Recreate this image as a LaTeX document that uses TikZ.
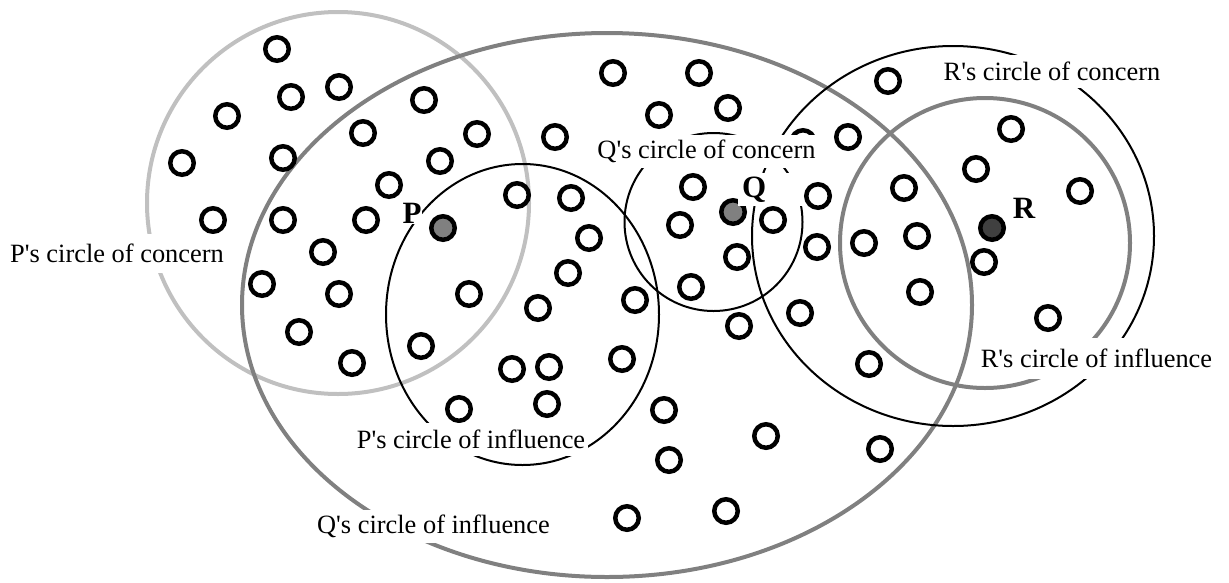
\documentclass[tikz,border=0pt]{standalone}
\usepackage{fontspec}
\setmainfont{Liberation Serif}
\definecolor{lightring}{HTML}{C0C0C0}
\definecolor{midring}{HTML}{808080}
\definecolor{darkfill}{HTML}{404040}
\begin{document}
\begin{tikzpicture}[x=1pt,y=-1pt]
    \tikzset{ring/.style = {line width=4pt}}
    \tikzset{border/.style = {line width=2pt}}
    \tikzset{dot/.style = {shape=circle,draw,line width=4.5pt,minimum size=23.5pt,inner sep=0pt}}
    \tikzset{tag/.style = {fill=white,inner xsep=3pt,inner ysep=0pt,minimum height=33pt,font=\fontsize{26.4}{30}\selectfont}}
    \tikzset{who/.style = {fill=white,inner sep=1pt,font=\fontsize{31}{34}\selectfont\bfseries}}
    \useasboundingbox (0,0) rectangle (1229,582);
    \draw[ring,lightring] (338,203) circle [radius=191pt];
    \draw[ring,midring] (607,305) ellipse [x radius=365pt,y radius=272pt];
    \draw[ring,midring] (985,243) circle [radius=145pt];
    \draw[border] (522.5,314.5) ellipse [x radius=136.5pt,y radius=150.5pt];
    \draw[border] (713.5,222) circle [radius=89pt];
    \draw[border] (953,236) ellipse [x radius=201pt,y radius=190pt];
    \foreach \x/\y [count=\i] in {277/49,291/97,339/87,227/116,182/163,283/158,363/133,389/185,
        213/220,283/220,366/220,323/252,262/284,339/294,299/332,352/363,421/346,424/100,
        477/134,440/161,555/137,517/195,571/198,589/238,568/273,469/294,538/308,512/369,
        549/367,459/409,547/404,635/300,622/359,613/73,699/73,659/115,728/108,693/187,
        680/225,773/220,737/257,691/287,739/326,800/313,818/196,817/247,803/142,848/137,
        888/81,904/188,864/243,917/236,920/292,976/169,1011/129,1080/191,984/262,1048/318,
        869/364,664/410,766/436,880/449,669/460,627/518,726/511}
        \node[dot] (c\i) at (\x,\y) {};
    \node[dot,fill=midring] (p) at (443,228) {};
    \node[dot,fill=midring] (q) at (733,212) {};
    \node[dot,fill=darkfill] (r) at (992,228) {};
    \node[who] (pname) at (412,213) {P};
    \node[who,anchor=west,text width=57pt,minimum height=33pt,inner xsep=4pt,inner ysep=0pt] (qname) at (738,189.5) {Q};
    \node[who] (rname) at (1024,208) {R};
    \node[tag,minimum height=39pt] (pcon) at (117,253) {P\textquotesingle s circle of concern};
    \node[tag] (pinf) at (471,439) {P\textquotesingle s circle of influence};
    \node[tag] (qcon) at (706.5,151.5) {Q\textquotesingle s circle of concern};
    \node[tag] (qinf) at (433.5,526) {Q\textquotesingle s circle of influence};
    \node[tag] (rcon) at (1052,71.5) {R\textquotesingle s circle of concern};
    \node[tag,minimum height=41pt] (rinf) at (1096.5,358) {R\textquotesingle s circle of influence};
\end{tikzpicture}
\end{document}
